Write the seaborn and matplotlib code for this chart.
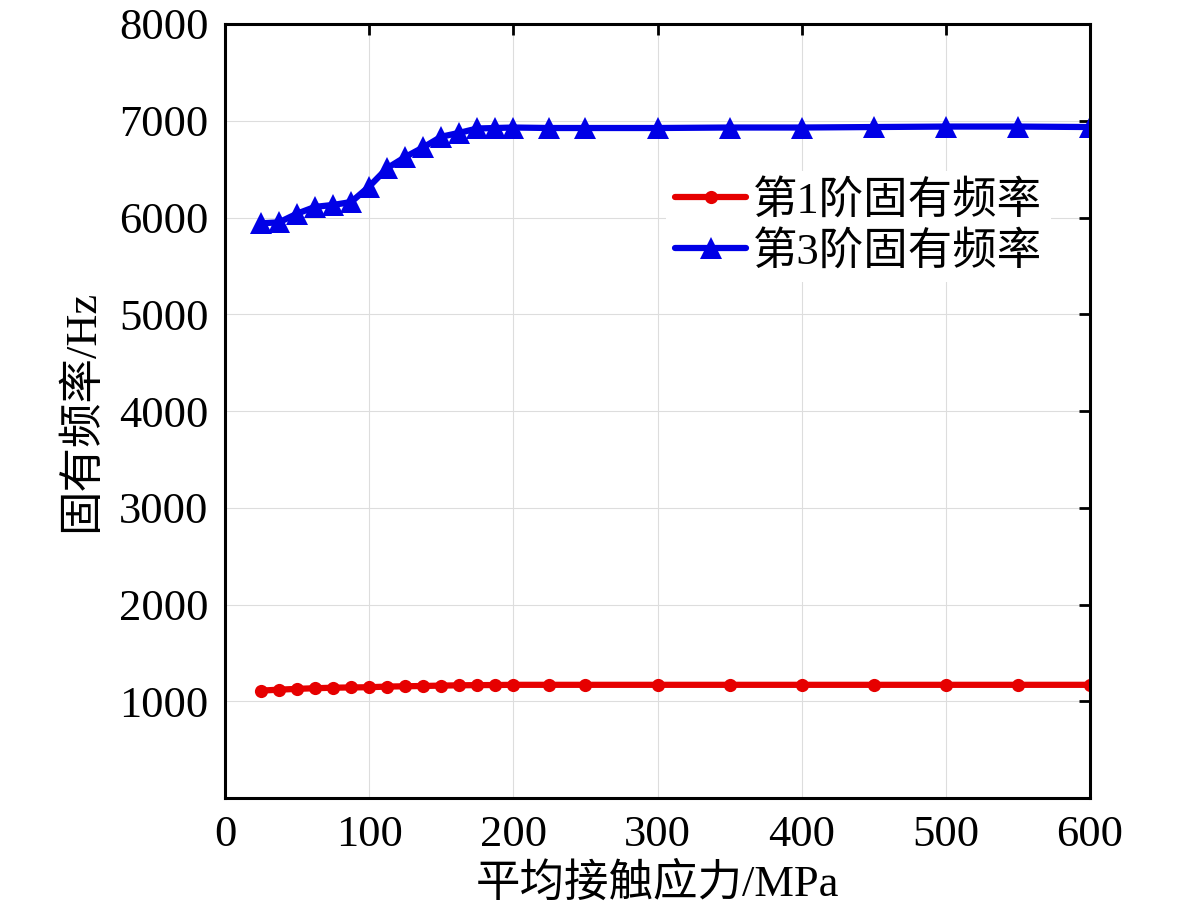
import numpy as np
import pandas as pd
import matplotlib
matplotlib.use("Agg")
import matplotlib.pyplot as plt
import seaborn as sns

# contact stress (MPa)
stress = [25, 37.5, 50, 62.5, 75, 87.5, 100, 112.5, 125, 137.5, 150, 162.5,
          175, 187.5, 200, 225, 250, 300, 350, 400, 450, 500, 550, 600]

# 1st natural frequency (Hz)
freq_1 = [1110, 1120, 1128, 1135, 1140, 1143, 1145, 1152, 1155, 1158, 1162, 1165,
          1167, 1168, 1170, 1170, 1170, 1170, 1170, 1170, 1170, 1170, 1170, 1170]

# 3rd natural frequency (Hz)
freq_3 = [5940, 5950, 6040, 6110, 6130, 6160, 6320, 6510, 6625, 6725, 6835, 6875,
          6920, 6925, 6930, 6925, 6925, 6925, 6930, 6930, 6935, 6940, 6940, 6935]

labels = ["第1阶固有频率", "第3阶固有频率"]

df = pd.concat([
    pd.DataFrame({"stress": stress, "freq": freq_1, "mode": labels[0]}),
    pd.DataFrame({"stress": stress, "freq": freq_3, "mode": labels[1]}),
])

sns.set_style("white")
plt.rcParams["font.family"] = ["Liberation Serif", "Noto Sans CJK SC"]
plt.rcParams["font.size"] = 32
plt.rcParams["text.color"] = "black"
plt.rcParams["axes.labelcolor"] = "black"
plt.rcParams["xtick.color"] = "black"
plt.rcParams["ytick.color"] = "black"

fig = plt.figure(figsize=(11.81, 9.16), dpi=100)
ax = fig.add_axes([0.1905, 0.1288, 0.7325, 0.845])

sns.lineplot(data=df, x="stress", y="freq", hue="mode", style="mode",
             palette={labels[0]: "#e60000", labels[1]: "#0000e6"},
             markers={labels[0]: "o", labels[1]: "^"},
             dashes=False, linewidth=4.5, markeredgewidth=0, ax=ax)

# marker sizes differ per series
for line in ax.lines:
    if line.get_marker() == "o":
        line.set_markersize(9.5)
    elif line.get_marker() == "^":
        line.set_markersize(16.5)

ax.set_xlim(0, 600)
ax.set_ylim(0, 8000)
ax.set_xticks([0, 100, 200, 300, 400, 500, 600])
ax.set_yticks([1000, 2000, 3000, 4000, 5000, 6000, 7000, 8000])
ax.grid(True, color="#dddddd", linewidth=0.8)
ax.tick_params(direction="in", length=8, width=2, labelsize=32,
               top=True, right=True, pad=12, colors="black")
for sp in ax.spines.values():
    sp.set_linewidth(2.2)
    sp.set_color("black")

ax.set_xlabel("平均接触应力/MPa", fontsize=32, labelpad=6)
ax.set_ylabel("固有频率/Hz", fontsize=32, labelpad=12)

# legend sits on a white patch (no border) that hides the grid behind it
leg = ax.legend(loc="upper right", bbox_to_anchor=(0.955, 0.81), frameon=True,
                fontsize=32, handlelength=1.6, handletextpad=0.15,
                borderaxespad=0, borderpad=0.2, labelspacing=0.2,
                fancybox=False, facecolor="white", edgecolor="none",
                framealpha=1)
for h in leg.get_lines():
    h.set_linewidth(4.5)

fig.savefig("out.png", dpi=100)
